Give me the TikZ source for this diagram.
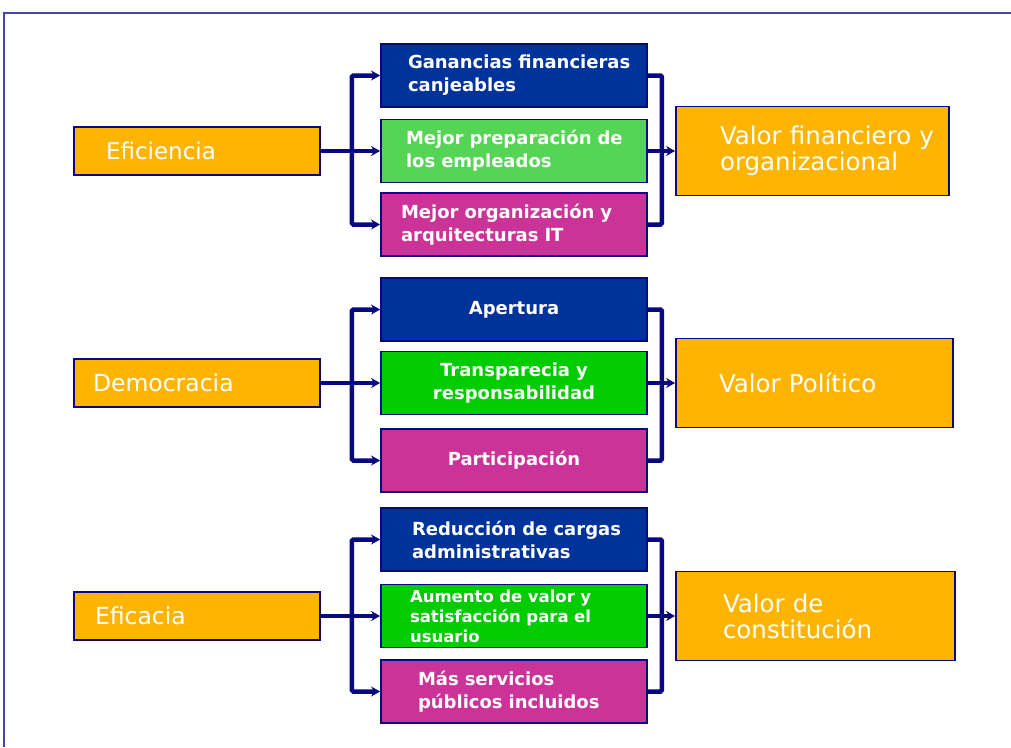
\documentclass[tikz,border=0pt]{standalone}
\usepackage{fontspec}
\setmainfont{DejaVu Sans}
\usetikzlibrary{arrows.meta}
\definecolor{orng}{RGB}{255,180,0}
\definecolor{dblue}{RGB}{0,51,153}
\definecolor{lgreen}{RGB}{85,212,85}
\definecolor{vgreen}{RGB}{0,204,0}
\definecolor{magen}{RGB}{204,51,153}
\definecolor{navyc}{RGB}{8,8,128}
\definecolor{framec}{RGB}{70,70,170}
\begin{document}
\begin{tikzpicture}[x=1pt,y=-1pt,
 box/.style={draw=navyc,line width=1.8pt,inner sep=0pt,text=white,align=left},
 side/.style={box,fill=orng,font=\fontsize{23.5}{26}\selectfont},
 mid/.style={box,minimum width=266pt,text width=266pt,minimum height=63pt,font=\bfseries\fontsize{18}{23}\selectfont},
 padl/.style={execute at begin node={\leftskip=#1pt\relax}},
 conn/.style={draw=navyc,line width=4.5pt,rounded corners=1.5pt},
 arr/.style={conn,-{Stealth[length=9pt,width=10pt]}}]
\useasboundingbox (0,0) rectangle (1011,747);
\fill[white] (0,0) rectangle (1011,747);
\draw[framec,line width=2pt] (4,747) -- (4,13) -- (1011,13);

% group 1
\node[side,padl=32,minimum width=246pt,text width=246pt,minimum height=48pt,font=\fontsize{23}{26}\selectfont] (e1) at (197,151) {Eficiencia};
\node[mid,fill=dblue,padl=27] (m1) at (514,75.5) {Ganancias financieras\\canjeables};
\node[mid,fill=lgreen,padl=25] (m2) at (514,151) {Mejor preparación de\\los empleados};
\node[mid,fill=magen,padl=20] (m3) at (514,224.5) {Mejor organización y\\arquitecturas IT};
\node[side,padl=44,minimum width=273pt,text width=273pt,minimum height=89pt,font=\fontsize{24.5}{26}\selectfont] (r1) at (812.5,151) {Valor financiero y\\organizacional};

% group 2
\node[side,padl=19,minimum width=246pt,text width=246pt,minimum height=48pt] (e2) at (197,383) {Democracia};
\node[mid,fill=dblue,align=center] (m4) at (514,309.5) {Apertura};
\node[mid,fill=vgreen,align=center] (m5) at (514,383) {Transparecia y\\responsabilidad};
\node[mid,fill=magen,align=center] (m6) at (514,460.5) {Participación};
\node[side,padl=43,minimum width=277pt,text width=277pt,minimum height=89pt,font=\fontsize{24.5}{26}\selectfont] (r2) at (814.5,383) {Valor Político};

% group 3
\node[side,padl=21,minimum width=246pt,text width=246pt,minimum height=48pt] (e3) at (197,616) {Eficacia};
\node[mid,fill=dblue,padl=31] (m7) at (514,539.5) {Reducción de cargas\\administrativas};
\node[mid,fill=vgreen,padl=29,font=\bfseries\fontsize{16.5}{20}\selectfont] (m8) at (514,616) {Aumento de valor y\\satisfacción para el\\usuario};
\node[mid,fill=magen,padl=37] (m9) at (514,691.5) {Más servicios\\públicos incluidos};
\node[side,padl=47,minimum width=279pt,text width=279pt,minimum height=89pt,font=\fontsize{24.5}{26}\selectfont] (r3) at (815.5,616) {Valor de\\constitución};

% connectors group 1
\draw[conn] (e1.east) -- ++(31,0) coordinate (b1);
\draw[arr] (b1) |- (m1.west);
\draw[arr] (b1) -- (m2.west);
\draw[arr] (b1) |- (m3.west);
\draw[conn] (m1.east) -- ++(14,0) |- (m3.east);
\draw[arr] (m2.east) -- (r1.west);

% connectors group 2
\draw[conn] (e2.east) -- ++(31,0) coordinate (b2);
\draw[arr] (b2) |- (m4.west);
\draw[arr] (b2) -- (m5.west);
\draw[arr] (b2) |- (m6.west);
\draw[conn] (m4.east) -- ++(14,0) |- (m6.east);
\draw[arr] (m5.east) -- (r2.west);

% connectors group 3
\draw[conn] (e3.east) -- ++(31,0) coordinate (b3);
\draw[arr] (b3) |- (m7.west);
\draw[arr] (b3) -- (m8.west);
\draw[arr] (b3) |- (m9.west);
\draw[conn] (m7.east) -- ++(14,0) |- (m9.east);
\draw[arr] (m8.east) -- (r3.west);
\end{tikzpicture}
\end{document}
